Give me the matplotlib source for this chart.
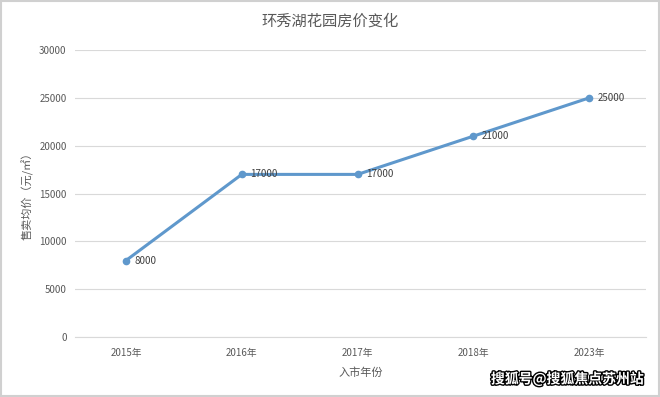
import matplotlib
matplotlib.use("Agg")
import matplotlib.pyplot as plt
from matplotlib.patches import Rectangle
import matplotlib.patheffects as pe

plt.rcParams['font.family'] = ['Noto Sans CJK SC', 'DejaVu Sans']

categories = ["2015年", "2016年", "2017年", "2018年", "2023年"]
prices = [8000, 17000, 17000, 21000, 25000]
yticks = [0, 5000, 10000, 15000, 20000, 25000, 30000]

fig = plt.figure(figsize=(6.6, 3.97), dpi=100)
ax = fig.add_axes([75 / 660, 0.151, 571 / 660, 0.723])

x = list(range(len(categories)))
ax.plot(x, prices, color="#5f98cc", linewidth=2.2, marker="o", markersize=4.5, zorder=3)
for xi, v in zip(x, prices):
    ax.annotate(str(v), (xi, v), xytext=(6, 0), textcoords="offset points",
                va="center", ha="left", fontsize=7, color="#404040")

ax.set_xlim(-0.44, len(categories) - 0.51)
ax.set_ylim(0, 30000)
ax.set_yticks(yticks)
ax.set_yticklabels([str(t) for t in yticks])
ax.set_xticks(x)
ax.set_xticklabels(categories)
ax.grid(axis="y", color="#d9d9d9", linewidth=0.8)
ax.set_axisbelow(True)
for s in ["top", "right", "left"]:
    ax.spines[s].set_visible(False)
ax.spines["bottom"].set_color("#d9d9d9")
ax.tick_params(axis="y", length=0, labelsize=7, colors="#595959", pad=6)
ax.tick_params(axis="x", length=0, labelsize=7, colors="#595959", pad=8)
ax.set_xlabel("入市年份", fontsize=8, color="#595959", labelpad=7)
ax.set_ylabel("售卖均价（元/㎡）", fontsize=8, color="#595959", labelpad=4)

fig.text(0.5, 0.948, "环秀湖花园房价变化", ha="center", va="center", fontsize=11, color="#595959")

fig.text(0.975, 0.045, "搜狐号@搜狐焦点苏州站", ha="right", va="center", fontsize=10,
         color="white", fontweight="bold",
         path_effects=[pe.withStroke(linewidth=2, foreground="black")])

fig.patches.append(Rectangle((0.002, 0.003), 0.996, 0.994, transform=fig.transFigure,
                             fill=False, edgecolor="#d0d0d0", linewidth=1.5))

fig.savefig("out.png", dpi=100)
